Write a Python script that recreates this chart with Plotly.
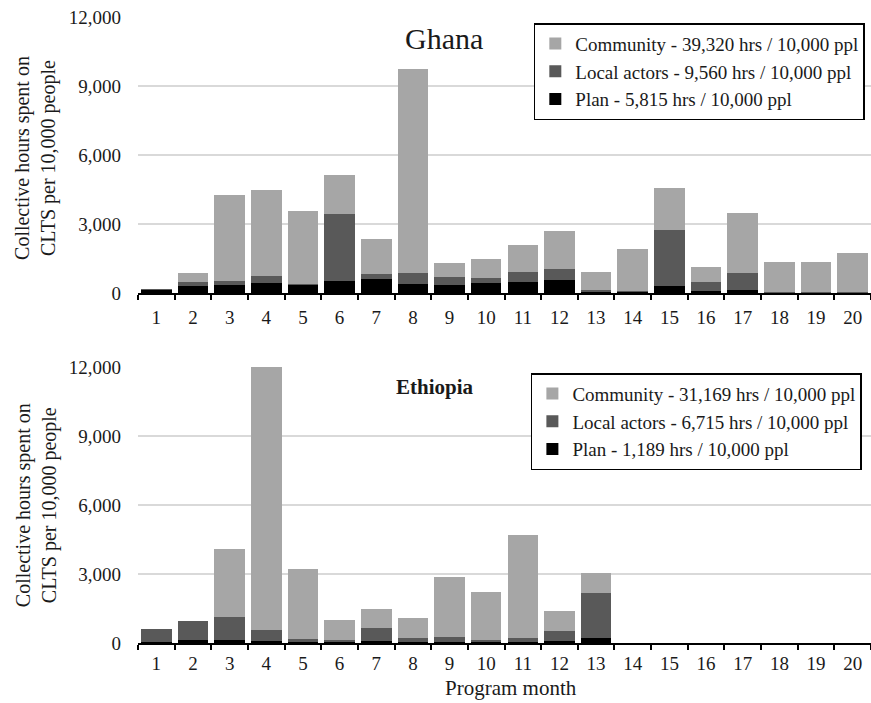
import plotly.graph_objects as go
from plotly.subplots import make_subplots

months = [str(i) for i in range(1, 21)]

# Ghana
gh_plan = [150, 300, 360, 450, 360, 510, 590, 405, 335, 420, 465, 580, 85, 60, 290, 70, 145, 40, 40, 40]
gh_local = [20, 180, 160, 275, 45, 2940, 260, 465, 350, 230, 465, 450, 45, 30, 2465, 410, 710, 20, 20, 20]
gh_comm = [0, 406, 3730, 3740, 3175, 1700, 1510, 8890, 620, 830, 1175, 1670, 780, 1810, 1810, 640, 2640, 1275, 1275, 1695]

# Ethiopia
et_plan = [60, 110, 145, 70, 40, 40, 85, 40, 40, 40, 40, 85, 215, 0, 0, 0, 0, 0, 0, 0]
et_local = [560, 850, 1000, 495, 120, 105, 550, 190, 220, 105, 160, 435, 1960, 0, 0, 0, 0, 0, 0, 0]
et_comm = [0, 0, 2930, 11730, 3040, 870, 855, 855, 2595, 2085, 4480, 855, 870, 0, 0, 0, 0, 0, 0, 0]

gh_names = ["Plan - 5,815 hrs / 10,000 ppl",
            "Local actors - 9,560 hrs / 10,000 ppl",
            "Community - 39,320 hrs / 10,000 ppl"]
et_names = ["Plan - 1,189 hrs / 10,000 ppl",
            "Local actors - 6,715 hrs / 10,000 ppl",
            "Community - 31,169 hrs / 10,000 ppl"]
colors = ["#000000", "#595959", "#a6a6a6"]

FONT = "Liberation Serif, Times New Roman, serif"
TXT = "#1a1a1a"

fig = make_subplots(rows=2, cols=1, vertical_spacing=0.118)

for vals, name, col in zip([gh_plan, gh_local, gh_comm], gh_names, colors):
    fig.add_trace(go.Bar(x=months, y=vals, name=name, marker=dict(color=col, line=dict(width=0)),
                         legend="legend"), row=1, col=1)
for vals, name, col in zip([et_plan, et_local, et_comm], et_names, colors):
    fig.add_trace(go.Bar(x=months, y=vals, name=name, marker=dict(color=col, line=dict(width=0)),
                         legend="legend2"), row=2, col=1)

xaxis_style = dict(type="category", showline=True, linecolor="#000000", linewidth=1.5,
                   ticks="outside", tickson="boundaries", ticklen=5, tickwidth=1.5, tickcolor="#000000",
                   showgrid=False, tickfont=dict(family=FONT, size=19, color=TXT),
                   range=[-0.5, 19.5])
yaxis_style = dict(range=[0, 12000], dtick=3000, tickformat=",", showgrid=True,
                   gridcolor="#d9d9d9", gridwidth=1.5, zeroline=False, showline=False,
                   tickfont=dict(family=FONT, size=19, color=TXT), ticklabelstandoff=16)

fig.update_xaxes(**xaxis_style)
fig.update_yaxes(**yaxis_style)
fig.update_xaxes(ticklabelstandoff=6, row=1, col=1)
fig.update_xaxes(ticklabelstandoff=2, row=2, col=1)

legend_style = dict(xanchor="left", yanchor="top", traceorder="reversed",
                    bgcolor="white", bordercolor="#000000", borderwidth=1.5,
                    font=dict(family=FONT, size=19, color=TXT), itemwidth=30)

ytitle = "Collective hours spent on<br>CLTS per 10,000 people"

fig.update_layout(
    width=871, height=703,
    margin=dict(l=138, r=0, t=17, b=60),
    barmode="stack", bargap=0.165,
    plot_bgcolor="white", paper_bgcolor="white",
    font=dict(family=FONT, size=19, color=TXT),
    legend=dict(x=0.54, y=0.99, **legend_style),
    legend2=dict(x=0.536, y=0.431, **legend_style),
    annotations=[
        dict(text="Ghana", x=0.4175, y=0.966, xref="paper", yref="paper", showarrow=False,
             xanchor="center", yanchor="middle",
             font=dict(family=FONT, size=30, color=TXT)),
        dict(text="<b>Ethiopia</b>", x=0.405, y=0.409, xref="paper", yref="paper", showarrow=False,
             xanchor="center", yanchor="middle",
             font=dict(family=FONT, size=21, color=TXT)),
        dict(text="Program month", x=0.509, y=-0.072, xref="paper", yref="paper", showarrow=False,
             xanchor="center", yanchor="middle",
             font=dict(family=FONT, size=21, color=TXT)),
        dict(text=ytitle, x=-0.139, y=0.775,
             xref="paper", yref="paper", showarrow=False, textangle=-90,
             xanchor="center", yanchor="middle",
             font=dict(family=FONT, size=20, color=TXT)),
        dict(text=ytitle, x=-0.139, y=0.2204,
             xref="paper", yref="paper", showarrow=False, textangle=-90,
             xanchor="center", yanchor="middle",
             font=dict(family=FONT, size=20, color=TXT)),
    ],
)

fig.write_html("out.html", config={"displayModeBar": False},
               post_script="document.body.style.margin='0px';document.body.style.overflow='hidden';")
